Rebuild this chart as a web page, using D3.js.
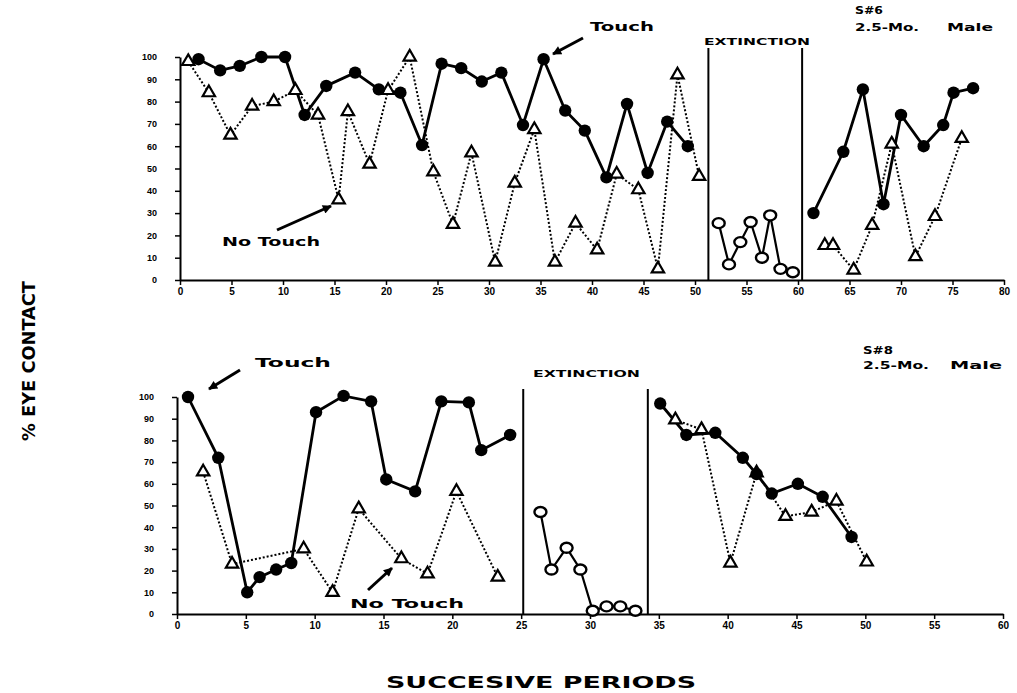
<!DOCTYPE html>
<meta charset="utf-8">
<body style="margin:0; background-color: white">
<script src="https://d3js.org/d3.v7.min.js"></script>
<script>

// S#6 (top panel) - [period, % eye contact]
var s6TouchA = [[1.8,99],[3.9,94],[5.8,96],[7.9,100],[10.2,100],[12.1,74],[14.2,87],[17.0,93],[19.3,85.5],[21.4,84],
                [23.5,60.5],[25.4,97],[27.3,95],[29.3,89],[31.2,93],[33.3,69.5],[35.3,99],[37.4,76],[39.3,67],[41.4,46],
                [43.4,79],[45.4,48],[47.3,71],[49.3,60]];
var s6TouchB = [[61.5,30],[64.4,57.5],[66.3,85.5],[68.3,34],[70,74],[72.2,60],[74.1,69.5],[75.1,84],[77,86]];
var s6NoTouchA = [[0.8,98],[2.8,84],[4.9,65],[7.0,78],[9.1,80],[11.2,85],[13.4,74],[15.4,36],[16.3,75.5],[18.4,52],
                  [20.2,85],[22.3,100],[24.6,48.5],[26.5,25],[28.3,57],[30.6,8],[32.5,43.5],[34.4,67.5],[36.4,8],[38.4,25.5],
                  [40.5,13.5],[42.4,47.5],[44.5,40.5],[46.4,5],[48.3,92],[50.4,46.5]];
var s6NoTouchB = [[62.6,15.5],[63.4,15.5],[65.4,4.5],[67.2,24.5],[69.1,61],[71.4,10.5],[73.3,28.5],[75.9,63.5]];
var s6Ext = [[52.3,25.5],[53.3,7],[54.4,17],[55.4,26],[56.5,10],[57.3,29],[58.3,5],[59.5,3.5]];
var s6Phases = [51.3, 60.4];

// S#8 (bottom panel)
var s8TouchA = [[0.8,100],[3.0,72],[5.1,10],[6.0,17],[7.2,20.5],[8.3,23.5],[10.1,93],[12.1,100.5],[14.1,98],[15.2,62],
                [17.3,56.5],[19.2,98],[21.2,97.5],[22.1,75.5],[24.2,82.5]];
var s8TouchB = [[35.1,97],[37.0,82.5],[39.1,83.5],[41.1,72],[42.1,64.5],[43.2,55.5],[45.1,60],[46.9,54],[49.0,35.5]];
var s8NoTouchA = [[1.9,65.5],[4.0,23],[9.2,30],[11.3,10],[13.2,48.5],[16.3,25.5],[18.2,18.5],[20.3,56.5],[23.3,17]];
var s8NoTouchB = [[36.2,89.5],[38.1,85],[40.2,23.5],[42.1,65],[44.2,45],[46.1,47],[47.9,52],[50.1,24]];
var s8Ext = [[26.4,47],[27.2,20.5],[28.3,30.5],[29.3,20.5],[30.2,1.5],[31.2,3.5],[32.2,3.5],[33.3,1.5]];
var s8Phases = [25.15, 34.2];

var yTicks = [0,10,20,30,40,50,60,70,80,90,100];
var s6XTicks = d3.range(0, 81, 5);
var s8XTicks = d3.range(0, 61, 5);

var svg = d3.select("body").append("svg")
    .attr("width", 1017)
    .attr("height", 693)
    .style("font-family", "'DejaVu Sans', sans-serif");

var defs = svg.append("defs");
defs.append("marker")
    .attr("id", "arrow")
    .attr("viewBox", "0 0 10 10")
    .attr("refX", 9).attr("refY", 5)
    .attr("markerWidth", 12).attr("markerHeight", 9)
    .attr("markerUnits", "userSpaceOnUse")
    .attr("orient", "auto")
    .append("path")
    .attr("d", "M0,0 L10,5 L0,10 z")
    .attr("fill", "black");

function drawPanel(p) {
  var x = p.x, y = p.y;

  var gx = svg.append("g")
      .attr("transform", "translate(0," + y(0) + ")")
      .call(d3.axisBottom(x).tickValues(p.xTicks).tickSize(5).tickSizeOuter(0).tickPadding(3));
  gx.select(".domain").attr("stroke-width", 2);
  gx.selectAll(".tick line").attr("stroke-width", 1.5);
  gx.selectAll("text").attr("font-size", 10).attr("font-weight", "bold");

  var gy = svg.append("g")
      .attr("transform", "translate(" + x(0) + ",0)")
      .call(d3.axisLeft(y).tickValues(yTicks).tickSize(5).tickSizeOuter(0).tickPadding(18));
  gy.select(".domain").attr("stroke-width", 2);
  gy.selectAll(".tick line").attr("stroke-width", 1.5);
  gy.selectAll("text").attr("font-size", 9).attr("font-weight", "bold");

  // phase boundaries
  p.phases.forEach(function(v) {
    svg.append("line")
        .attr("x1", x(v)).attr("x2", x(v))
        .attr("y1", p.lineTop).attr("y2", y(0))
        .attr("stroke", "black")
        .attr("stroke-width", 2);
  });

  var line = d3.line()
      .x(function(d) { return x(d[0]); })
      .y(function(d) { return y(d[1]); });

  p.noTouch.forEach(function(s) {
    svg.append("path").datum(s)
        .attr("d", line)
        .attr("fill", "none")
        .attr("stroke", "black")
        .attr("stroke-width", 2)
        .attr("stroke-dasharray", "2,2");
  });
  p.touch.forEach(function(s) {
    svg.append("path").datum(s)
        .attr("d", line)
        .attr("fill", "none")
        .attr("stroke", "black")
        .attr("stroke-width", 2.8);
  });
  svg.append("path").datum(p.ext)
      .attr("d", line)
      .attr("fill", "none")
      .attr("stroke", "black")
      .attr("stroke-width", 2.2);

  var tri = d3.symbol().type(d3.symbolTriangle).size(66);
  p.noTouch.forEach(function(s) {
    svg.selectAll(null).data(s).enter()
      .append("path")
        .attr("d", tri)
        .attr("transform", function(d) { return "translate(" + x(d[0]) + "," + y(d[1]) + ")"; })
        .attr("fill", "white")
        .attr("stroke", "black")
        .attr("stroke-width", 2.2);
  });
  p.touch.forEach(function(s) {
    svg.selectAll(null).data(s).enter()
      .append("circle")
        .attr("cx", function(d) { return x(d[0]); })
        .attr("cy", function(d) { return y(d[1]); })
        .attr("r", 6.2)
        .attr("fill", "black");
  });
  svg.selectAll(null).data(p.ext).enter()
    .append("ellipse")
      .attr("cx", function(d) { return x(d[0]); })
      .attr("cy", function(d) { return y(d[1]); })
      .attr("rx", 6).attr("ry", 5)
      .attr("fill", "white")
      .attr("stroke", "black")
      .attr("stroke-width", 2.4);
}

drawPanel({
  x: d3.scaleLinear().domain([0, 80]).range([180, 1004]),
  y: d3.scaleLinear().domain([0, 100]).range([280, 57]),
  xTicks: s6XTicks, phases: s6Phases, lineTop: 48,
  touch: [s6TouchA, s6TouchB], noTouch: [s6NoTouchA, s6NoTouchB], ext: s6Ext
});

drawPanel({
  x: d3.scaleLinear().domain([0, 60]).range([177, 1003]),
  y: d3.scaleLinear().domain([0, 100]).range([614, 397]),
  xTicks: s8XTicks, phases: s8Phases, lineTop: 389,
  touch: [s8TouchA, s8TouchB], noTouch: [s8NoTouchA, s8NoTouchB], ext: s8Ext
});

// labels and arrows
function label(txt, x, y, size, len) {
  svg.append("text")
      .attr("x", x).attr("y", y)
      .attr("font-size", size)
      .attr("font-weight", "bold")
      .attr("textLength", len)
      .attr("lengthAdjust", "spacingAndGlyphs")
      .text(txt);
}
function arrow(x1, y1, x2, y2) {
  svg.append("line")
      .attr("x1", x1).attr("y1", y1)
      .attr("x2", x2).attr("y2", y2)
      .attr("stroke", "black")
      .attr("stroke-width", 3)
      .attr("marker-end", "url(#arrow)");
}

label("Touch", 590, 31, 13, 64);
arrow(583, 38, 553, 54);
label("No Touch", 222, 246, 13, 98);
arrow(277, 230, 331, 206);
label("EXTINCTION", 704, 45, 9, 106);
label("S#6", 855, 14, 10, 28);
label("2.5-Mo.", 855, 31, 10, 64);
label("Male", 947, 31, 10, 46);

label("Touch", 255, 367, 13, 76);
arrow(240, 370, 209, 389);
label("No Touch", 350, 608, 13, 114);
arrow(368, 590, 392, 568);
label("EXTINCTION", 533, 377, 9, 107);
label("S#8", 863, 354, 10, 30);
label("2.5-Mo.", 863, 369, 10, 66);
label("Male", 950, 369, 10, 52);

svg.append("text")
    .attr("transform", "translate(35,361) rotate(-90)")
    .attr("text-anchor", "middle")
    .attr("font-family", "'Liberation Sans Narrow', 'DejaVu Sans Condensed', sans-serif")
    .attr("font-size", 18)
    .attr("font-weight", "bold")
    .attr("textLength", 160)
    .attr("lengthAdjust", "spacingAndGlyphs")
    .text("% EYE CONTACT");

svg.append("text")
    .attr("x", 386).attr("y", 688)
    .attr("font-size", 16)
    .attr("font-weight", "bold")
    .attr("textLength", 310)
    .attr("lengthAdjust", "spacingAndGlyphs")
    .text("SUCCESIVE PERIODS");

</script>
